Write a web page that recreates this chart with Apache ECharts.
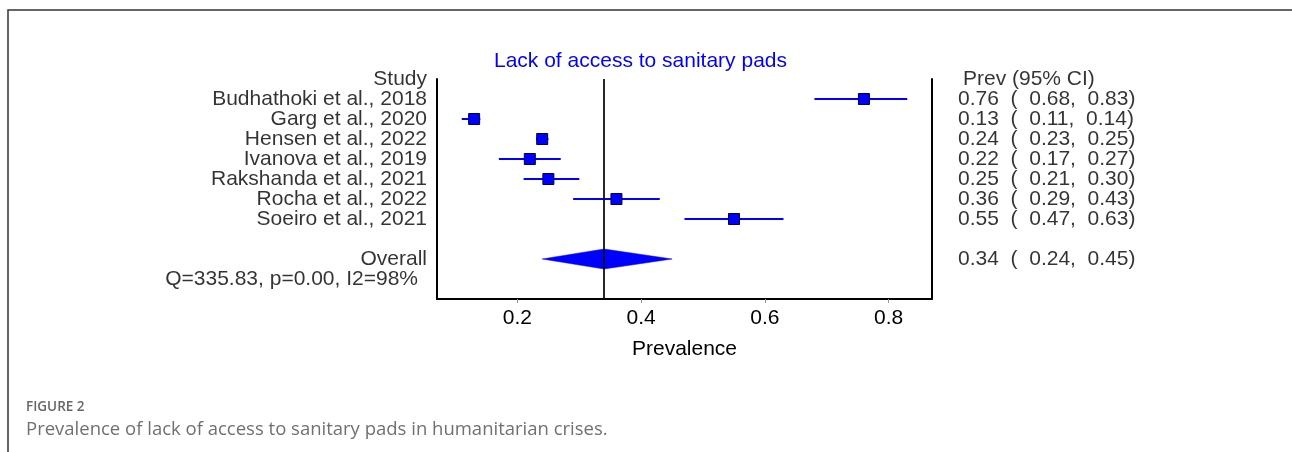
<!DOCTYPE html>
<html>
<head>
<meta charset="utf-8">
<script src="https://cdn.jsdelivr.net/npm/echarts@6/dist/echarts.min.js"></script>
<style>
html,body{margin:0;padding:0;background:#fff;}
#chart{width:1292px;height:452px;}
</style>
</head>
<body>
<div id="chart"></div>
<script>
// ---- data ----
const studies = ['Budhathoki et al., 2018','Garg et al., 2020','Hensen et al., 2022','Ivanova et al., 2019','Rakshanda et al., 2021','Rocha et al., 2022','Soeiro et al., 2021'];
const prev  = [0.76, 0.13, 0.24, 0.22, 0.25, 0.36, 0.55];
const lower = [0.68, 0.11, 0.23, 0.17, 0.21, 0.29, 0.47];
const upper = [0.83, 0.14, 0.25, 0.27, 0.30, 0.43, 0.63];
const overallPrev = 0.34;
const overallLower = 0.24;
const overallUpper = 0.45;
const xTicks = [0.2, 0.4, 0.6, 0.8];
const heterogeneity = 'Q=335.83, p=0.00, I2=98%';
const chartTitle = 'Lack of access to sanitary pads';
const xName = 'Prevalence';
const leftHeader = 'Study';
const rightHeader = 'Prev (95% CI)';
const overallLabel = 'Overall';
const figLabel = 'FIGURE 2';
const caption = 'Prevalence of lack of access to sanitary pads in humanitarian crises.';

// ---- layout helpers ----
const X_MIN = 0.07, X_MAX = 0.87;
const OVERALL_ROW = studies.length + 1;
const HET_ROW = studies.length + 2;
const FONT = 'Liberation Sans, Arial, sans-serif';
const fmt = v => v.toFixed(2);
const ciText = (p, l, u) => fmt(p) + '  (  ' + fmt(l) + ',  ' + fmt(u) + ')';

const leftLabels = [[X_MIN, -1, leftHeader]]
  .concat(studies.map((s, i) => [X_MIN, i, s]))
  .concat([[X_MIN, OVERALL_ROW, overallLabel]]);
const rightLabels = studies.map((s, i) => [X_MAX, i, ciText(prev[i], lower[i], upper[i])])
  .concat([[X_MAX, OVERALL_ROW, ciText(overallPrev, overallLower, overallUpper)]]);

const chart = echarts.init(document.getElementById('chart'));
chart.setOption({
  animation: false,
  backgroundColor: '#fff',
  title: {
    text: chartTitle,
    left: 489, top: 46,
    textStyle: {color: '#0000ff', fontSize: 21, fontWeight: 'normal', fontFamily: FONT}
  },
  grid: {left: 437, right: 360, top: 79, bottom: 153},
  xAxis: {
    type: 'value', min: X_MIN, max: X_MAX,
    splitLine: {show: false},
    axisLine: {show: true, onZero: false, lineStyle: {color: '#000', width: 2}},
    axisTick: {show: true, customValues: xTicks, length: 4, lineStyle: {color: '#999', width: 1}},
    axisLabel: {customValues: xTicks, formatter: v => v.toFixed(1), fontSize: 21, color: '#000', fontFamily: FONT, margin: 9},
    name: xName, nameLocation: 'middle', nameGap: 40,
    nameTextStyle: {fontSize: 21, color: '#000', fontFamily: FONT}
  },
  yAxis: [{
    type: 'value', inverse: true, min: -1, max: HET_ROW + 1,
    splitLine: {show: false}, axisTick: {show: false}, axisLabel: {show: false},
    axisLine: {show: true, lineStyle: {color: '#000', width: 2}}
  }, {
    type: 'value', inverse: true, min: -1, max: HET_ROW + 1, position: 'right',
    splitLine: {show: false}, axisTick: {show: false}, axisLabel: {show: false},
    axisLine: {show: true, lineStyle: {color: '#000', width: 2}}
  }],
  series: [
    {
      type: 'custom', silent: true, clip: false,
      data: studies.map((s, i) => [prev[i], lower[i], upper[i], i]),
      encode: {x: [0, 1, 2], y: 3},
      renderItem: function (params, api) {
        const row = api.value(3);
        const lo = api.coord([api.value(1), row]);
        const hi = api.coord([api.value(2), row]);
        const c = api.coord([api.value(0), row]);
        return {type: 'group', children: [
          {type: 'line', shape: {x1: lo[0], y1: lo[1], x2: hi[0], y2: hi[1]}, style: {stroke: '#0000ff', lineWidth: 2}},
          {type: 'rect', shape: {x: c[0] - 5.5, y: c[1] - 5.5, width: 11, height: 11}, style: {fill: '#0000ff', stroke: '#000040', lineWidth: 1}}
        ]};
      },
      markLine: {
        silent: true, symbol: 'none', label: {show: false},
        lineStyle: {color: '#111', width: 1.8, type: 'solid'},
        data: [{xAxis: overallPrev}]
      }
    },
    {
      type: 'custom', silent: true, clip: false,
      data: [[overallPrev, overallLower, overallUpper, OVERALL_ROW]],
      encode: {x: [0, 1, 2], y: 3},
      renderItem: function (params, api) {
        const row = api.value(3);
        const p1 = api.coord([api.value(1), row]);
        const p2 = api.coord([api.value(0), row - 0.5]);
        const p3 = api.coord([api.value(2), row]);
        const p4 = api.coord([api.value(0), row + 0.5]);
        return {type: 'polygon', shape: {points: [p1, p2, p3, p4]}, style: {fill: '#0000ff', stroke: '#0000ff', lineWidth: 0.5}};
      }
    },
    {
      type: 'scatter', silent: true, symbolSize: 0,
      data: leftLabels,
      label: {show: true, position: 'left', distance: 10, formatter: p => p.data[2], fontSize: 21, color: '#000', fontFamily: FONT}
    },
    {
      type: 'scatter', silent: true, symbolSize: 0,
      data: [[X_MIN, HET_ROW, heterogeneity]],
      label: {show: true, position: 'left', distance: 19, formatter: p => p.data[2], fontSize: 21, color: '#000', fontFamily: FONT}
    },
    {
      type: 'scatter', silent: true, symbolSize: 0,
      data: rightLabels,
      label: {show: true, position: 'right', distance: 26, formatter: p => p.data[2], fontSize: 21, color: '#000', fontFamily: FONT}
    },
    {
      type: 'scatter', silent: true, symbolSize: 0,
      data: [[X_MAX, -1, rightHeader]],
      label: {show: true, position: 'right', distance: 31, formatter: p => p.data[2], fontSize: 21, color: '#000', fontFamily: FONT}
    }
  ],
  graphic: [
    {type: 'rect', silent: true, shape: {x: 8, y: 10, width: 1300, height: 460}, style: {fill: 'none', stroke: '#333', lineWidth: 1.5}},
    {type: 'text', silent: true, left: 26, top: 400, style: {text: figLabel, fontSize: 13.5, fontWeight: 600, fill: '#666', fontFamily: 'Open Sans, sans-serif'}},
    {type: 'text', silent: true, left: 26, top: 420, style: {text: caption, fontSize: 18.5, fill: '#707070', fontFamily: 'Open Sans, sans-serif'}}
  ]
});
</script>
</body>
</html>
